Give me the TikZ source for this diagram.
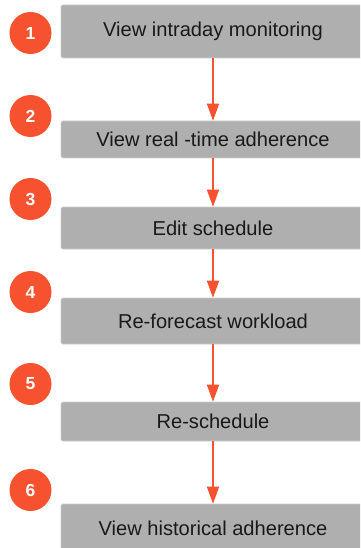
\documentclass[tikz,border=0pt]{standalone}
\usepackage{fontspec}
\setmainfont{Liberation Sans}
\usetikzlibrary{arrows.meta}
\definecolor{accent}{RGB}{246,82,47}
\definecolor{boxgray}{RGB}{175,175,175}
\definecolor{boxedge}{RGB}{205,205,205}
\tikzset{
  stepbox/.style={draw=boxedge, line width=0.6pt, fill=boxgray, rounded corners=1.5pt,
    minimum width=304pt, inner sep=0pt, font=\fontsize{20.1}{23}\selectfont, text=black!90},
  badge/.style={circle, fill=accent, minimum size=42pt, inner sep=0pt,
    font=\fontsize{17.5}{20}\selectfont\bfseries, text=white},
  flow/.style={draw=accent, line width=1.5pt, -{Triangle[length=17pt,width=12pt]}}
}
\begin{document}
\begin{tikzpicture}[x=1pt,y=-1pt]
  \clip (0,0) rectangle (360,548);
  \fill[white] (0,0) rectangle (360,548);
  % process steps
  \node[stepbox, minimum height=53pt] (s1) at (213,31.5) {View intraday monitoring};
  \node[stepbox, minimum height=37pt] (s2) at (213,139.5) {View real -time adherence};
  \node[stepbox, minimum height=42pt] (s3) at (213,228) {Edit schedule};
  \node[stepbox, minimum height=46pt] (s4) at (213,321) {Re-forecast workload};
  \node[stepbox, minimum height=39pt] (s5) at (213,421.5) {Re-schedule};
  \node[stepbox, minimum height=48pt] (s6) at (213,528) {View historical adherence};
  % step numbers
  \node[badge] (n1) at (30.5,33) {1};
  \node[badge] (n2) at (30.5,116) {2};
  \node[badge] (n3) at (30.5,199) {3};
  \node[badge] (n4) at (30.5,292) {4};
  \node[badge] (n5) at (30.5,384) {5};
  \node[badge] (n6) at (30.5,490) {6};
  % connectors
  \draw[flow] (s1.south) -- (s2.north);
  \draw[flow] (s2.south) -- (s3.north);
  \draw[flow] (s3.south) -- (s4.north);
  \draw[flow] (s4.south) -- (s5.north);
  \draw[flow] (s5.south) -- (s6.north);
\end{tikzpicture}
\end{document}
